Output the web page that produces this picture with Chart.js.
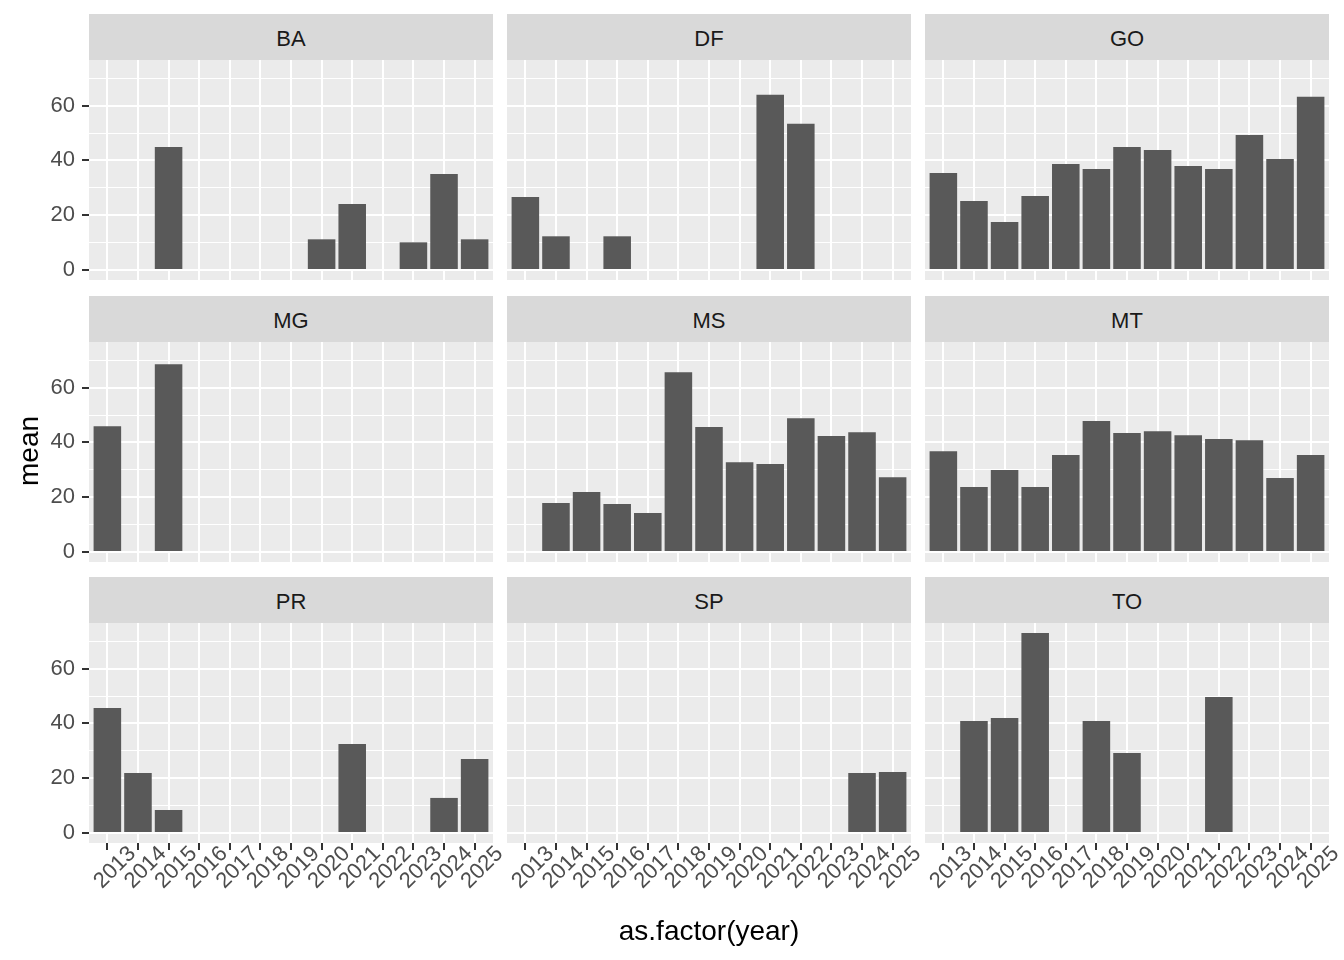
<!DOCTYPE html>
<html>
<head>
<meta charset="utf-8">
<script src="https://cdn.jsdelivr.net/npm/chart.js@4"></script>
<style>
  body { margin: 0; background: #ffffff; }
  #fig { position: relative; width: 1344px; height: 960px; overflow: hidden; font-family: "Liberation Sans", Arial, sans-serif; }
  canvas { position: absolute; }
  .strip { position: absolute; background: #D9D9D9; color: #1A1A1A; font-size: 22px; display: flex; align-items: center; justify-content: center; box-sizing: border-box; padding-top: 4px; }
  .title { position: absolute; color: #000000; font-size: 28px; white-space: nowrap; }
</style>
</head>
<body>
<div id="fig"></div>
<script>
// dados
const years = ['2013', '2014', '2015', '2016', '2017', '2018', '2019', '2020', '2021', '2022', '2023', '2024', '2025'];
const states = ['BA', 'DF', 'GO', 'MG', 'MS', 'MT', 'PR', 'SP', 'TO'];

const ba = [null, null, 44.9, null, null, null, null, 11.2, 24.1, null, 10.1, 35.0, 11.2];
const df = [26.6, 12.3, null, 12.3, null, null, null, null, 64.0, 53.4, null, null, null];
const go = [35.4, 25.2, 17.5, 27.0, 38.7, 36.9, 44.9, 43.8, 38.0, 36.9, 49.3, 40.5, 63.2];
const mg = [45.9, null, 68.5, null, null, null, null, null, null, null, null, null, null];
const ms = [null, 17.9, 21.9, 17.5, 14.2, 65.6, 45.6, 32.8, 32.1, 48.8, 42.3, 43.7, 27.3];
const mt = [36.8, 23.7, 29.9, 23.7, 35.4, 47.8, 43.4, 44.1, 42.6, 41.2, 40.8, 27.0, 35.4];
const pr = [45.6, 21.9, 8.4, null, null, null, null, null, 32.5, null, null, 12.8, 27.0];
const sp = [null, null, null, null, null, null, null, null, null, null, null, 21.9, 22.3];
const to = [null, 40.9, 42.0, 73.0, null, 40.9, 29.2, null, null, 49.6, null, null, null];

const stateValues = [ba, df, go, mg, ms, mt, pr, sp, to];
const yTicks = [0, 10, 20, 30, 40, 50, 60, 70];

// escala comum (expansao de 5% como no ggplot)
const yMaxData = Math.max(...stateValues.flat().filter(v => v !== null));
const yMin = -0.05 * yMaxData;
const yMax = 1.05 * yMaxData;

// layout
const fig = document.getElementById('fig');
const colLeft = [89, 507, 925];
const panelW = 404;
const panelTop = [60, 342, 623];
const panelH = 220;
const stripH = 46;
const yAxisW = 89;
const xAxisH = 70;
const padL = 60, padR = 25, padV = 30;
const tickFont = { family: '"Liberation Sans", Arial, sans-serif', size: 22 };

const panelBg = {
  id: 'panelBg',
  beforeDraw(chart) {
    const { ctx, chartArea: a } = chart;
    ctx.save();
    ctx.fillStyle = '#EBEBEB';
    ctx.fillRect(a.left, a.top, a.right - a.left, a.bottom - a.top);
    ctx.restore();
  }
};

states.forEach((st, i) => {
  const r = Math.floor(i / 3);
  const c = i % 3;
  const showY = c === 0;
  const showX = r === 2;

  const left = showY ? colLeft[0] - yAxisW : colLeft[c] - padL;
  const w = (showY ? yAxisW : padL) + panelW + padR;
  const h = padV + panelH + (showX ? xAxisH : 0) + padV;

  const cv = document.createElement('canvas');
  cv.width = w;
  cv.height = h;
  cv.style.left = left + 'px';
  cv.style.top = (panelTop[r] - padV) + 'px';
  cv.style.width = w + 'px';
  cv.style.height = h + 'px';
  fig.appendChild(cv);

  // faixa do painel
  const strip = document.createElement('div');
  strip.className = 'strip';
  strip.style.left = colLeft[c] + 'px';
  strip.style.top = (panelTop[r] - stripH) + 'px';
  strip.style.width = panelW + 'px';
  strip.style.height = stripH + 'px';
  strip.textContent = st;
  fig.appendChild(strip);

  new Chart(cv, {
    type: 'bar',
    data: {
      datasets: [{
        data: stateValues[i].map((v, k) => ({ x: k, y: v })),
        backgroundColor: '#595959',
        borderWidth: 0,
        barPercentage: 0.9,
        categoryPercentage: 1.0
      }]
    },
    options: {
      responsive: false,
      animation: false,
      layout: { padding: { left: showY ? 0 : padL, right: padR, top: padV, bottom: padV } },
      plugins: { legend: { display: false }, tooltip: { enabled: false } },
      scales: {
        x: {
          type: 'linear',
          offset: false,
          min: -0.6,
          max: years.length - 1 + 0.6,
          afterBuildTicks: s => { s.ticks = years.map((y, k) => ({ value: k })); },
          afterFit: s => { s.height = showX ? xAxisH : 0; },
          border: { display: false },
          grid: {
            offset: false,
            color: '#FFFFFF',
            lineWidth: 2,
            drawTicks: showX,
            tickLength: 7,
            tickColor: '#333333'
          },
          ticks: {
            display: showX,
            autoSkip: false,
            minRotation: 45,
            maxRotation: 45,
            labelOffset: 25,
            padding: -9,
            color: '#4D4D4D',
            font: tickFont,
            callback: v => years[v]
          }
        },
        y: {
          min: yMin,
          max: yMax,
          afterBuildTicks: s => { s.ticks = yTicks.map(v => ({ value: v })); },
          afterFit: s => { s.width = showY ? yAxisW : 0; },
          border: { display: false },
          grid: {
            color: '#FFFFFF',
            lineWidth: ctx => (ctx.tick && ctx.tick.value % 20 === 0) ? 2 : 1,
            drawTicks: showY,
            tickLength: 7,
            tickColor: ctx => (ctx.tick && ctx.tick.value % 20 === 0) ? '#333333' : 'rgba(0,0,0,0)'
          },
          ticks: {
            display: showY,
            padding: 7,
            color: '#4D4D4D',
            font: tickFont,
            callback: v => (v % 20 === 0 ? String(v) : '')
          }
        }
      }
    },
    plugins: [panelBg]
  });
});

// titulos dos eixos
const xTitle = document.createElement('div');
xTitle.className = 'title';
xTitle.textContent = 'as.factor(year)';
xTitle.style.left = '709px';
xTitle.style.top = '931px';
xTitle.style.transform = 'translate(-50%, -50%)';
fig.appendChild(xTitle);

const yTitle = document.createElement('div');
yTitle.className = 'title';
yTitle.textContent = 'mean';
yTitle.style.left = '29px';
yTitle.style.top = '451px';
yTitle.style.transform = 'translate(-50%, -50%) rotate(-90deg)';
fig.appendChild(yTitle);
</script>
</body>
</html>
